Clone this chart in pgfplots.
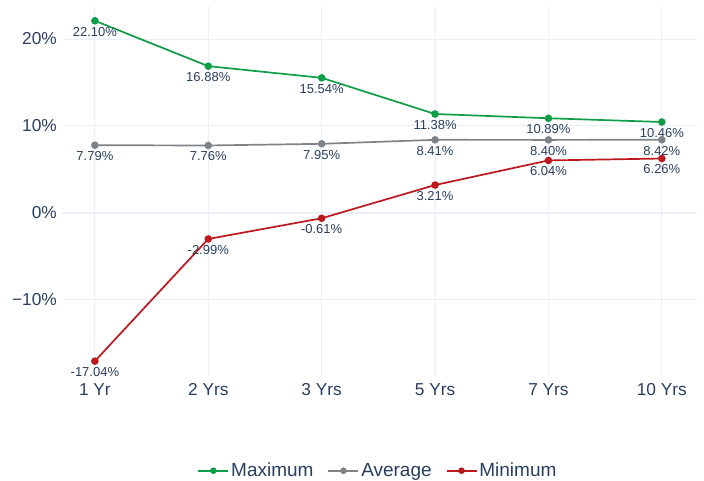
\documentclass[border=0pt]{standalone}
\usepackage{fontspec}
\setmainfont{Liberation Sans}
\usepackage{pgfplots}
\pgfplotsset{compat=1.18}

\definecolor{txt}{HTML}{2A3F5F}
\definecolor{gridc}{HTML}{EBF0F8}
\definecolor{maxc}{HTML}{0F9D48}
\definecolor{avgc}{HTML}{7F8387}
\definecolor{minc}{HTML}{BD181E}

\begin{document}
\begin{tikzpicture}
\path[fill=white, use as bounding box] (0,0) rectangle (704pt,480pt);
\begin{axis}[
    at={(62pt,104pt)}, anchor=south west,
    scale only axis,
    width=635pt, height=370pt,
    xmin=-0.29, xmax=5.31,
    ymin=-18.75, ymax=23.8,
    xtick={0,1,2,3,4,5},
    xticklabels={1 Yr,2 Yrs,3 Yrs,5 Yrs,7 Yrs,10 Yrs},
    ytick={-10,0,10,20},
    yticklabels={−10\%,0\%,10\%,20\%},
    axis line style={draw=none},
    major tick length=0pt,
    grid=major,
    grid style={gridc, line width=1pt},
    ticklabel style={font=\fontsize{17.3}{20}\selectfont, text=txt},
    yticklabel style={anchor=east, inner sep=0pt, xshift=-5pt},
    xticklabel style={anchor=north, inner sep=0pt, yshift=-7pt},
    clip=false,
    point meta=explicit symbolic,
    nodes near coords,
    nodes near coords style={anchor=north, inner sep=0pt, yshift=-5.5pt,
        font=\fontsize{13}{15}\selectfont, text=txt},
    every axis plot/.append style={line width=1.7pt, mark=*, mark size=2.9pt},
    legend columns=3,
    legend style={at={(0.4976,-0.256)}, anchor=center, draw=none, fill=none,
        font=\fontsize{19}{22}\selectfont, text=txt,
        /tikz/every even column/.append style={column sep=12pt},
        /tikz/every odd column/.append style={column sep=0pt}},
    legend image code/.code={
        \draw[mark repeat=2, mark phase=2, line width=1.7pt, mark size=2.4pt]
            plot coordinates {(0pt,0pt) (15pt,0pt) (30pt,0pt)};},
]
\draw[gridc, line width=2pt] (axis cs:-0.29,0) -- (axis cs:5.31,0);

\addplot[color=maxc, mark options={fill=maxc, draw=maxc}] coordinates {
    (0,22.10) [22.10\%]
    (1,16.88) [16.88\%]
    (2,15.54) [15.54\%]
    (3,11.38) [11.38\%]
    (4,10.89) [10.89\%]
    (5,10.46) [10.46\%]
};
\addlegendentry{Maximum}

\addplot[color=avgc, mark options={fill=avgc, draw=avgc}] coordinates {
    (0,7.79) [7.79\%]
    (1,7.76) [7.76\%]
    (2,7.95) [7.95\%]
    (3,8.41) [8.41\%]
    (4,8.40) [8.40\%]
    (5,8.42) [8.42\%]
};
\addlegendentry{Average}

\addplot[color=minc, mark options={fill=minc, draw=minc}] coordinates {
    (0,-17.04) [-17.04\%]
    (1,-2.99) [-2.99\%]
    (2,-0.61) [-0.61\%]
    (3,3.21) [3.21\%]
    (4,6.04) [6.04\%]
    (5,6.26) [6.26\%]
};
\addlegendentry{Minimum}
\end{axis}
\end{tikzpicture}
\end{document}
